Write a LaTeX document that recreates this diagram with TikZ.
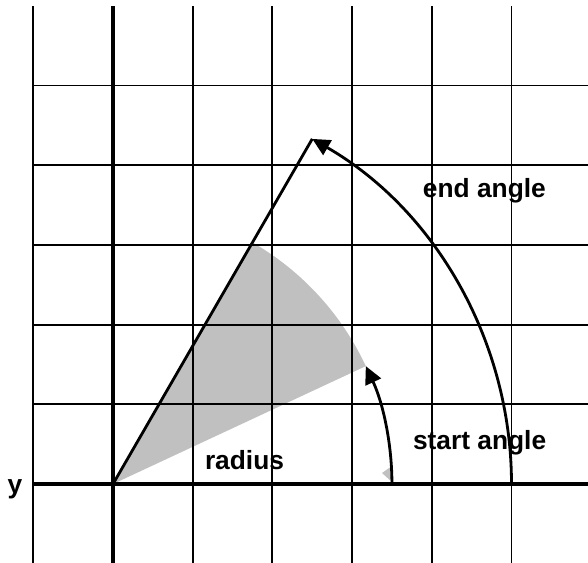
\documentclass[tikz,border=0pt]{standalone}
\usepackage{fontspec}
\setmainfont{Liberation Sans}
\usetikzlibrary{arrows.meta}
\definecolor{sectorgray}{RGB}{192,192,192}
\begin{document}
\begin{tikzpicture}[x=1cm,y=1cm,
  gridline/.style={line width=0.7pt},
  axisline/.style={line width=1.1pt},
  mainline/.style={line width=1pt},
  lbl/.style={font=\fontsize{9.4}{11}\selectfont\bfseries, anchor=base, inner sep=0pt},
  tip/.style={-{Triangle[length=6.3pt,width=6pt]}}]
\useasboundingbox (-1.418,-0.979) rectangle (5.96,6.073);
\coordinate (O) at (0,0);
\coordinate (A) at (60:5);
\coordinate (S0) at (3.5,0);
\coordinate (E0) at (5,0);
% shaded sector
\fill[sectorgray] (O) -- (25:3.5) arc[start angle=25,end angle=60,radius=3.5] -- cycle;
\fill[sectorgray] (3.375,0.138) -- (3.5,0.226) -- (3.5,0.025) -- cycle;
% grid
\draw[gridline] foreach \x in {-1,1,2,3,4,5} {(\x,-1) -- (\x,6)};
\draw[gridline] foreach \y in {1,...,5} {(-1,\y) -- (6,\y)};
% axes
\draw[axisline] (0,-1) -- (0,6);
\draw[axisline] (-1,0) -- (6,0);
% radius line and arcs
\draw[mainline] (O) -- (A);
\draw[mainline,tip] (S0) arc[start angle=0,end angle=25,radius=3.5];
\draw[mainline,tip] (E0) arc[start angle=0,end angle=60,radius=5];
% labels
\node[lbl] (endlbl) at (4.66,3.60) {end angle};
\node[lbl] (startlbl) at (4.60,0.427) {start angle};
\node[lbl] (radlbl) at (1.65,0.188) {radius};
\node[lbl] (ylbl) at (-1.23,-0.125) {y};
\end{tikzpicture}
\end{document}
